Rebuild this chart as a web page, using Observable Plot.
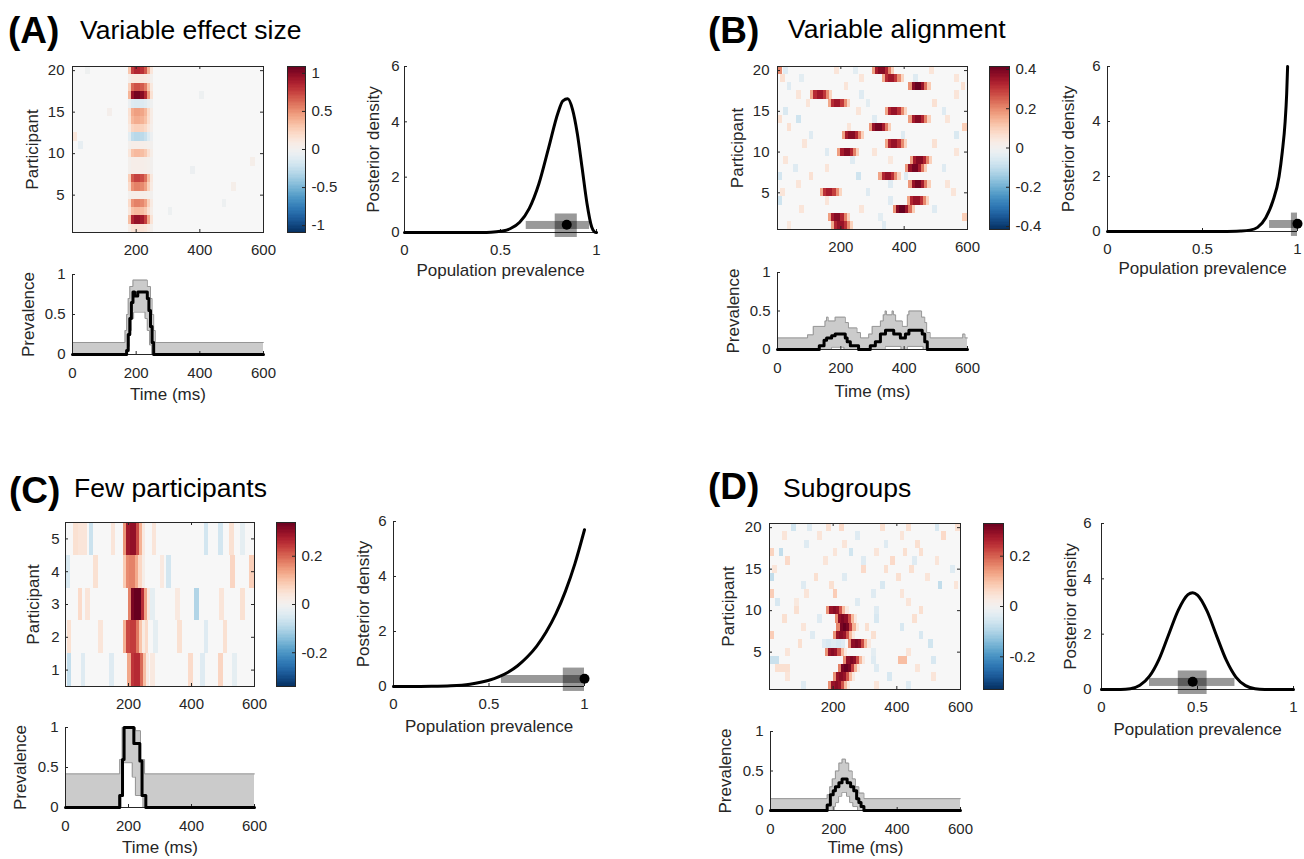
<!DOCTYPE html>
<html><head><meta charset="utf-8">
<script src="https://cdn.jsdelivr.net/npm/d3@7"></script>
<script src="https://cdn.jsdelivr.net/npm/@observablehq/plot@0.6"></script>
<style>
body{margin:0;background:#fff;}
#fig{position:relative;width:1304px;height:859px;overflow:hidden;background:#fff;font-family:'Liberation Sans',Arial,Helvetica,sans-serif;}
#fig svg{position:absolute;overflow:visible;max-width:none;}
</style></head><body><div id="fig"></div>
<script>
// ================= DATA =================
const BIN = 10;       // ms per signal cell
const NOISE_BIN = 15; // ms per noise cell
const heatXTicks = [200, 400, 600];
const prevXTicks = [0, 200, 400, 600];
const prevYTicks = [0, 0.5, 1];
const postXTicks = [0, 0.5, 1];
const postYTicks = [0, 2, 4, 6];

// ---- Panel A: Variable effect size ----
const A_title = ["(A)", "Variable effect size"];
const A_participantTicks = [5, 10, 15, 20];
const A_colorTicks = [-1, -0.5, 0, 0.5, 1];
const A_colorMax = 1.09;
const A_blobStart = 175;
const A_blobProfile = [0.35, 0.9, 1, 1, 0.95, 0.8, 0.45, 0.15];
const A_blobAmp = [0.15, 0.95, 0.35, 0.55, 0.05, 0.55, 0.75, 0.05, 0.05, 0.35, 0.05, -0.3, 0.25, 0.4, 0.45, -0.15, 1.05, 0.7, 0.1, 0.85];
const A_noise = [[12,0,0.12],[11,20,-0.08],[8,370,-0.05],[4,470,-0.04],[15,110,0.03],[17,400,-0.04],[6,500,0.04],[3,300,-0.04],[20,40,-0.03],[9,560,0.04]];
const A_postP = [0, 0.1, 0.2, 0.3, 0.4, 0.45, 0.5, 0.55, 0.6, 0.65, 0.7, 0.75, 0.8, 0.825, 0.85, 0.875, 0.9, 0.925, 0.95, 0.975, 0.99, 1.0];
const A_postD = [0, 0, 0, 0.0003, 0.003, 0.011, 0.043, 0.135, 0.37, 0.87, 1.76, 3.04, 4.34, 4.76, 4.83, 4.45, 3.58, 2.34, 1.07, 0.2, 0.02, 0];
const A_hdi96 = [0.634, 0.964];
const A_hdi50 = [0.785, 0.9];
const A_map = 0.845;
const A_prevUpper = [[0,0.15],[165,0.3],[170,0.5],[175,0.7],[180,0.85],[190,0.93],[235,0.85],[245,0.7],[250,0.5],[255,0.3],[260,0.15],[600,0.15]];
const A_prevLower = [[0,0],[172,0.1],[178,0.3],[185,0.45],[192,0.53],[228,0.45],[235,0.3],[242,0.12],[249,0],[600,0]];
const A_prevLine  = [[0,0],[170,0.05],[175,0.25],[180,0.45],[185,0.65],[190,0.78],[195,0.73],[205,0.78],[235,0.7],[240,0.55],[245,0.35],[250,0.15],[255,0],[600,0]];

// ---- Panel B: Variable alignment ----
const B_title = ["(B)", "Variable alignment"];
const B_participantTicks = [5, 10, 15, 20];
const B_colorTicks = [-0.4, -0.2, 0, 0.2, 0.4];
const B_colorMax = 0.415;
const B_blobStart = [170,160,365,410,135,415,320,405,420,190,340,205,290,415,340,160,105,415,330,300];
const B_blobAmp = [0.36,0.38,0.42,0.36,0.34,0.4,0.36,0.4,0.38,0.38,0.36,0.38,0.4,0.38,0.36,0.35,0.35,0.42,0.35,0.38];
const B_blobProfile = [0.45, 0.9, 1, 1, 0.85, 0.55, 0.25];
const B_noise = [[20,0,0.2],[20,20,-0.05],[20,180,0.05],[20,240,-0.04],[20,480,0.05],
 [19,10,0.06],[19,70,-0.04],[19,260,0.05],[19,430,-0.05],[19,560,0.05],
 [18,30,-0.05],[18,210,0.05],[18,580,0.06],[17,60,0.05],[17,260,-0.05],[17,560,0.05],
 [16,90,0.05],[16,280,-0.04],[16,490,0.06],[15,20,-0.06],[15,250,0.05],[15,520,-0.05],
 [14,0,0.06],[14,60,-0.08],[14,300,-0.05],[14,530,0.05],[13,30,0.06],[13,220,0.05],[13,585,0.1],
 [12,100,-0.05],[12,390,-0.05],[12,560,-0.06],[11,80,0.05],[11,490,0.06],
 [10,150,-0.05],[10,300,0.05],[10,560,0.05],[9,20,0.05],[9,230,-0.05],[9,350,0.04],
 [8,50,-0.05],[8,150,0.05],[8,520,-0.05],[7,0,-0.07],[7,100,0.06],[7,250,-0.08],[7,400,-0.05],
 [6,60,0.05],[6,350,-0.05],[6,530,0.05],[5,10,0.05],[5,280,-0.05],[5,550,0.05],
 [4,0,-0.08],[4,150,0.05],[4,350,-0.05],[3,70,0.05],[3,260,0.05],[3,490,-0.05],
 [2,585,0.1],[2,320,-0.04],[1,30,0.04],[1,330,-0.05]];
const B_postP = [0, 0.5, 0.6, 0.7, 0.75, 0.79, 0.833, 0.87, 0.903, 0.92, 0.935, 0.943, 0.948];
const B_postD = [0, 0, 0.003, 0.02, 0.05, 0.15, 0.5, 1.1, 2.0, 2.9, 4.0, 5.0, 6.0];
const B_hdi96 = [0.853, 1.0];
const B_hdi50 = [0.968, 1.0];
const B_map = 1.0;
const B_prevUpper = [[0,0.15],[95,0.19],[113,0.3],[150,0.37],[155,0.42],[160,0.37],[182,0.42],[214,0.35],[224,0.28],[251,0.22],[262,0.15],[288,0.2],[299,0.3],[325,0.37],[334,0.45],[340,0.5],[344,0.45],[362,0.5],[366,0.45],[373,0.37],[394,0.3],[410,0.45],[415,0.5],[455,0.42],[465,0.35],[471,0.22],[482,0.15],[585,0.2],[592,0.15],[600,0.15]];
const B_prevLower = [[0,0],[170,0.03],[210,0],[340,0.04],[390,0],[410,0.04],[460,0],[600,0]];
const B_prevLine  = [[0,0],[132,0.05],[147,0.12],[155,0.15],[171,0.18],[182,0.2],[214,0.15],[220,0.1],[230,0.05],[256,0],[293,0.05],[309,0.1],[325,0.2],[341,0.25],[367,0.2],[388,0.15],[404,0.2],[415,0.25],[457,0.2],[465,0.1],[473,0],[600,0]];

// ---- Panel C: Few participants ----
const C_title = ["(C)", "Few participants"];
const C_participantTicks = [1, 2, 3, 4, 5];
const C_colorTicks = [-0.2, 0, 0.2];
const C_colorMax = 0.34;
const C_blobStart = [198, 185, 200, 183, 185];
const C_blobAmp = [0.26, 0.24, 0.34, 0.17, 0.3];
const C_blobProfile = [0.5, 0.95, 1, 1, 0.75, 0.4, 0.1];
const C_noise = [[5,25,0.05],[5,40,0.04],[5,55,0.04],[5,75,-0.07],[5,145,0.04],[5,275,0.04],[5,440,-0.06],[5,485,-0.06],[5,520,0.05],[5,555,-0.03],
 [4,0,-0.05],[4,90,0.05],[4,300,0.03],[4,320,-0.06],[4,525,0.07],[4,585,0.08],
 [3,40,0.06],[3,65,0.04],[3,270,-0.03],[3,350,0.03],[3,410,-0.1],[3,490,0.04],[3,555,0.05],
 [2,5,0.05],[2,105,0.04],[2,250,0.06],[2,280,-0.03],[2,355,0.05],[2,440,-0.04],[2,500,0.05],
 [1,5,-0.08],[1,50,-0.04],[1,140,-0.04],[1,270,0.03],[1,390,0.06],[1,430,-0.04],[1,485,0.07],[1,530,-0.03]];
const C_postP = [0, 0.1, 0.2, 0.3, 0.4, 0.5, 0.55, 0.6, 0.65, 0.7, 0.75, 0.8, 0.85, 0.9, 0.95, 1.0];
const C_postD = [0, 0.0004, 0.005, 0.024, 0.084, 0.227, 0.35, 0.52, 0.755, 1.07, 1.47, 1.99, 2.64, 3.46, 4.47, 5.7];
const C_hdi96 = [0.565, 1.0];
const C_hdi50 = [0.889, 1.0];
const C_map = 1.0;
const C_prevUpper = [[0,0.42],[172,0.6],[180,1],[222,0.96],[238,0.6],[251,0.42],[600,0.42]];
const C_prevLower = [[0,0],[176,0.15],[184,0.56],[212,0.38],[222,0.15],[246,0],[600,0]];
const C_prevLine  = [[0,0],[172,0.15],[181,0.6],[186,1],[217,0.8],[236,0.58],[243,0.15],[255,0],[600,0]];

// ---- Panel D: Subgroups ----
const D_title = ["(D)", "Subgroups"];
const D_participantTicks = [5, 10, 15, 20];
const D_colorTicks = [-0.2, 0, 0.2];
const D_colorMax = 0.33;
const D_blobStart = [186, 201, 217, 233, 175, 249, 201, 212, 207, 180];
const D_blobAmp = [0.3, 0.3, 0.33, 0.31, 0.3, 0.31, 0.3, 0.33, 0.31, 0.3];
const D_blobProfile = [0.5, 0.95, 1, 0.95, 0.7, 0.35, 0.1];
const D_noise = [[20,70,-0.06],[20,180,0.05],[20,220,0.06],[20,120,-0.04],[20,350,0.05],[20,430,0.05],[20,520,-0.05],[20,585,0.05],
 [19,40,0.04],[19,150,0.04],[19,270,-0.04],[19,410,0.04],[19,540,0.06],
 [18,110,-0.04],[18,230,0.04],[18,360,-0.04],[18,460,0.05],
 [17,0,0.07],[17,30,-0.08],[17,200,0.04],[17,250,-0.06],[17,330,0.04],[17,420,0.05],[17,470,0.05],
 [16,50,0.06],[16,170,0.04],[16,290,-0.04],[16,380,0.06],[16,450,-0.04],[16,520,0.04],
 [15,10,0.04],[15,290,0.06],[15,360,0.05],[15,440,0.05],[15,570,-0.04],
 [14,0,-0.08],[14,140,0.05],[14,230,-0.04],[14,400,0.05],[14,490,0.04],
 [13,100,-0.04],[13,190,0.05],[13,350,-0.05],[13,530,-0.08],[13,580,0.04],
 [12,0,0.08],[12,110,0.04],[12,200,0.08],[12,320,-0.04],[12,410,0.04],
 [11,20,-0.05],[11,80,0.03],[11,270,-0.04],[11,430,0.04],
 [10,80,0.05],[10,330,-0.04],[10,470,0.05],[9,40,0.05],[9,150,-0.04],[9,330,-0.05],[9,450,0.05],
 [8,100,0.04],[8,300,0.05],[8,410,-0.05],[7,0,0.08],[7,130,-0.04],[7,320,0.05],[7,470,-0.05],
 [6,90,0.05],[6,165,-0.04],[6,180,-0.05],[6,195,-0.04],[6,210,-0.05],[6,225,-0.04],[6,500,-0.06],
 [5,50,0.04],[5,320,-0.03],[5,430,0.04],[4,0,-0.07],[4,15,-0.07],[4,320,-0.04],[4,405,0.1],[4,420,0.1],[4,510,-0.05],
 [3,20,0.05],[3,35,0.05],[3,50,0.05],[3,330,-0.04],[3,460,0.04],[2,50,0.04],[2,370,-0.05],[2,510,0.04],
 [1,100,-0.04],[1,330,0.04],[1,430,-0.04]];
const D_postP = [0, 0.1, 0.15, 0.2, 0.25, 0.3, 0.35, 0.4, 0.45, 0.475, 0.5, 0.55, 0.6, 0.65, 0.7, 0.75, 0.8, 0.85, 0.9, 1];
const D_postD = [0, 0.003, 0.03, 0.15, 0.48, 1.10, 1.99, 2.87, 3.43, 3.5, 3.41, 2.83, 1.93, 1.06, 0.45, 0.14, 0.027, 0.003, 0, 0];
const D_hdi96 = [0.25, 0.695];
const D_hdi50 = [0.40, 0.55];
const D_map = 0.475;
const D_prevUpper = [[0,0.15],[179,0.2],[187,0.3],[195,0.4],[205,0.5],[216,0.6],[226,0.65],[237,0.6],[247,0.5],[258,0.4],[268,0.3],[279,0.22],[295,0.15],[600,0.15]];
const D_prevLower = [[0,0],[195,0.05],[205,0.1],[215,0.18],[225,0.23],[240,0.18],[250,0.1],[260,0.05],[275,0],[600,0]];
const D_prevLine  = [[0,0],[179,0.07],[189,0.2],[198,0.25],[205,0.3],[216,0.35],[226,0.4],[242,0.35],[253,0.3],[263,0.25],[272,0.15],[279,0.1],[286,0.05],[295,0],[600,0]];

// ================= LAYOUT / STYLE =================
const FONT = "'Liberation Sans', Arial, Helvetica, sans-serif";
const INK = "#262626";
const ML = 70, MR = 60, MT = 20, MB = 50, TICK = 3;
const TICKFS = 15, LABFS = 17;
const fmt = d => String(d);
const fig = document.getElementById("fig");

function base(fr) {
  return {width: fr.w + ML + MR, height: fr.h + MT + MB,
    marginLeft: ML, marginRight: MR, marginTop: MT, marginBottom: MB,
    style: {fontFamily: FONT, color: INK, background: "transparent", overflow: "visible"}};
}
function mount(svg, fr) {
  svg.style.left = (fr.x - ML) + "px";
  svg.style.top = (fr.y - MT) + "px";
  fig.appendChild(svg);
}
function buildCells(starts, amps, profile, noise) {
  const cells = noise.map(([p, t, v]) => ({t0: t, t1: t + NOISE_BIN, p0: p - 0.5, p1: p + 0.5, v}));
  amps.forEach((a, i) => {
    const p = i + 1, s = Array.isArray(starts) ? starts[i] : starts;
    profile.forEach((w, k) => cells.push({t0: s + k * BIN, t1: s + (k + 1) * BIN, p0: p - 0.5, p1: p + 0.5, v: a * w}));
  });
  return cells;
}
const colorOpts = m => ({type: "linear", scheme: "RdBu", reverse: true, domain: [-m, m], clamp: true});

function heatmap(fr, nP, yTicks, cmax, cells, ylabDx, yPad) {
  mount(Plot.plot({
    ...base(fr),
    x: {domain: [0, 600]},
    y: {domain: [0.5, nP + 0.5]},
    color: colorOpts(cmax),
    marks: [
      Plot.frame({fill: "#f7f7f7", stroke: "none"}),
      Plot.rect(cells, {x1: "t0", x2: "t1", y1: "p0", y2: "p1", fill: "v", clip: true, shapeRendering: "crispEdges"}),
      Plot.ruleX(heatXTicks, {insetTop: fr.h - TICK, stroke: INK}),
      Plot.ruleX(heatXTicks, {insetBottom: fr.h - TICK, stroke: INK}),
      Plot.ruleY(yTicks, {insetRight: fr.w - TICK, stroke: INK}),
      Plot.ruleY(yTicks, {insetLeft: fr.w - TICK, stroke: INK}),
      Plot.frame({stroke: INK}),
      Plot.axisX({ticks: heatXTicks, tickSize: 0, tickPadding: 12, fontSize: TICKFS, label: null, tickFormat: fmt}),
      Plot.axisY({ticks: yTicks, tickSize: 0, tickPadding: yPad, fontSize: TICKFS, label: null, tickFormat: fmt}),
      Plot.text(["Participant"], {text: d => d, frameAnchor: "left", dx: ylabDx, rotate: -90, fontSize: LABFS, lineAnchor: "middle", textAnchor: "middle"})
    ]
  }), fr);
}

function colorbar(fr, cmax, ticks) {
  const N = 120;
  const steps = d3.range(N).map(i => ({a: -cmax + 2 * cmax * i / N, b: -cmax + 2 * cmax * (i + 1) / N}));
  mount(Plot.plot({
    ...base(fr),
    x: {domain: [0, 1], axis: null},
    y: {domain: [-cmax, cmax]},
    color: colorOpts(cmax),
    marks: [
      Plot.rect(steps, {x1: 0, x2: 1, y1: "a", y2: "b", fill: d => (d.a + d.b) / 2, shapeRendering: "crispEdges"}),
      Plot.ruleY(ticks, {insetLeft: fr.w - TICK, stroke: INK}),
      Plot.frame({stroke: INK}),
      Plot.axisY({ticks, anchor: "right", tickSize: 0, tickPadding: 6, fontSize: TICKFS, label: null, tickFormat: fmt})
    ]
  }), fr);
}

function posterior(fr, P, D, h96, h50, mapv, ylabDx, yPad, xlabDy) {
  const pts = P.map((p, i) => ({p, d: D[i]}));
  mount(Plot.plot({
    ...base(fr),
    x: {domain: [0, 1]},
    y: {domain: [0, 6]},
    marks: [
      Plot.ruleY([0], {stroke: INK}),
      Plot.ruleX([0], {stroke: INK}),
      Plot.ruleX([0.5, 1], {insetTop: fr.h - TICK, stroke: INK}),
      Plot.ruleY([2, 4, 6], {insetRight: fr.w - TICK, stroke: INK}),
      Plot.line(pts, {x: "p", y: "d", stroke: "black", strokeWidth: 3, curve: "monotone-x"}),
      Plot.rect([h96], {x1: d => d[0], x2: d => d[1], y1: 0.11, y2: 0.4, fill: "black", fillOpacity: 0.4}),
      Plot.rect([h50], {x1: d => d[0], x2: d => d[1], y1: -0.18, y2: 0.67, fill: "black", fillOpacity: 0.4}),
      Plot.dot([mapv], {x: d => d, y: 0.28, r: 5, fill: "black", stroke: "none"}),
      Plot.axisX({ticks: postXTicks, tickSize: 0, tickPadding: 12, fontSize: TICKFS, label: null, tickFormat: fmt}),
      Plot.axisY({ticks: postYTicks, tickSize: 0, tickPadding: yPad, fontSize: TICKFS, label: null, tickFormat: fmt}),
      Plot.text(["Posterior density"], {text: d => d, frameAnchor: "left", dx: ylabDx, rotate: -90, fontSize: LABFS, lineAnchor: "middle", textAnchor: "middle"}),
      Plot.text(["Population prevalence"], {text: d => d, frameAnchor: "bottom", dy: xlabDy, lineAnchor: "top", fontSize: LABFS})
    ]
  }), fr);
}

function prevalence(fr, upper, lower, line, ylabDx, xlabDy) {
  const obj = a => a.map(([t, v]) => ({t, v}));
  mount(Plot.plot({
    ...base(fr),
    x: {domain: [0, 600]},
    y: {domain: [0, 1]},
    marks: [
      Plot.areaY(obj(upper), {x: "t", y: "v", fill: "#cbcbcb", curve: "step-after"}),
      Plot.areaY(obj(lower), {x: "t", y: "v", fill: "white", curve: "step-after"}),
      Plot.lineY(obj(upper), {x: "t", y: "v", stroke: "#969696", strokeWidth: 1, curve: "step-after"}),
      Plot.lineY(obj(lower), {x: "t", y: "v", stroke: "#969696", strokeWidth: 1, curve: "step-after"}),
      Plot.ruleY([0], {stroke: INK}),
      Plot.ruleX([0], {stroke: INK}),
      Plot.ruleX([200, 400, 600], {insetTop: fr.h - TICK, stroke: INK}),
      Plot.ruleY([0.5, 1], {insetRight: fr.w - TICK, stroke: INK}),
      Plot.lineY(obj(line), {x: "t", y: "v", stroke: "black", strokeWidth: 3, curve: "step-after"}),
      Plot.axisX({ticks: prevXTicks, tickSize: 0, tickPadding: 13, fontSize: TICKFS, label: null, tickFormat: fmt}),
      Plot.axisY({ticks: prevYTicks, tickSize: 0, tickPadding: 7, fontSize: TICKFS, label: null, tickFormat: fmt}),
      Plot.text(["Prevalence"], {text: d => d, frameAnchor: "left", dx: ylabDx, rotate: -90, fontSize: LABFS, lineAnchor: "middle", textAnchor: "middle"}),
      Plot.text(["Time (ms)"], {text: d => d, frameAnchor: "bottom", dy: xlabDy, lineAnchor: "top", fontSize: LABFS})
    ]
  }), fr);
}

// ---- Panel A ----
heatmap({x: 72, y: 66, w: 191, h: 166}, 20, A_participantTicks, A_colorMax,
  buildCells(A_blobStart, A_blobAmp, A_blobProfile, A_noise), -40, 8);
colorbar({x: 287, y: 66, w: 18, h: 166}, A_colorMax, A_colorTicks);
posterior({x: 404, y: 66, w: 192, h: 166}, A_postP, A_postD, A_hdi96, A_hdi50, A_map, -31, 5, 31);
prevalence({x: 72, y: 274, w: 191, h: 80}, A_prevUpper, A_prevLower, A_prevLine, -44, 33);

// ---- Panel B ----
heatmap({x: 777, y: 66, w: 190, h: 163}, 20, B_participantTicks, B_colorMax,
  buildCells(B_blobStart, B_blobAmp, B_blobProfile, B_noise), -40, 8);
colorbar({x: 989, y: 66, w: 20, h: 163}, B_colorMax, B_colorTicks);
posterior({x: 1107, y: 66, w: 190, h: 165}, B_postP, B_postD, B_hdi96, B_hdi50, B_map, -39, 7, 30);
prevalence({x: 777, y: 272, w: 190, h: 77}, B_prevUpper, B_prevLower, B_prevLine, -44, 35);

// ---- Panel C ----
heatmap({x: 65, y: 522, w: 189, h: 164}, 5, C_participantTicks, C_colorMax,
  buildCells(C_blobStart, C_blobAmp, C_blobProfile, C_noise), -32, 6);
colorbar({x: 276, y: 522, w: 19, h: 164}, C_colorMax, C_colorTicks);
posterior({x: 393, y: 521, w: 191, h: 165}, C_postP, C_postD, C_hdi96, C_hdi50, C_map, -30, 7, 33);
prevalence({x: 65, y: 727, w: 189, h: 80}, C_prevUpper, C_prevLower, C_prevLine, -45, 33);

// ---- Panel D ----
heatmap({x: 769, y: 523, w: 191, h: 166}, 20, D_participantTicks, D_colorMax,
  buildCells(D_blobStart, D_blobAmp, D_blobProfile, D_noise), -41, 8);
colorbar({x: 983, y: 523, w: 20, h: 166}, D_colorMax, D_colorTicks);
posterior({x: 1101, y: 523, w: 192, h: 166}, D_postP, D_postD, D_hdi96, D_hdi50, D_map, -31, 10, 33);
prevalence({x: 770, y: 731, w: 190, h: 79}, D_prevUpper, D_prevLower, D_prevLine, -45, 30);

// ---- Panel titles ----
const titles = [
  {t: A_title, lx: 8, ly: 43, tx: 80, ty: 39},
  {t: B_title, lx: 708, ly: 43, tx: 788, ty: 38},
  {t: C_title, lx: 9, ly: 503, tx: 74, ty: 497},
  {t: D_title, lx: 708, ly: 499, tx: 783, ty: 497}
];
const ov = d3.create("svg").attr("width", 1304).attr("height", 859)
  .style("left", "0px").style("top", "0px").style("pointer-events", "none")
  .attr("font-family", FONT).attr("fill", "#000");
for (const T of titles) {
  ov.append("text").attr("x", T.lx).attr("y", T.ly).attr("font-size", 37).attr("font-weight", "bold").text(T.t[0]);
  ov.append("text").attr("x", T.tx).attr("y", T.ty).attr("font-size", 26.5).text(T.t[1]);
}
fig.appendChild(ov.node());
</script></body></html>
